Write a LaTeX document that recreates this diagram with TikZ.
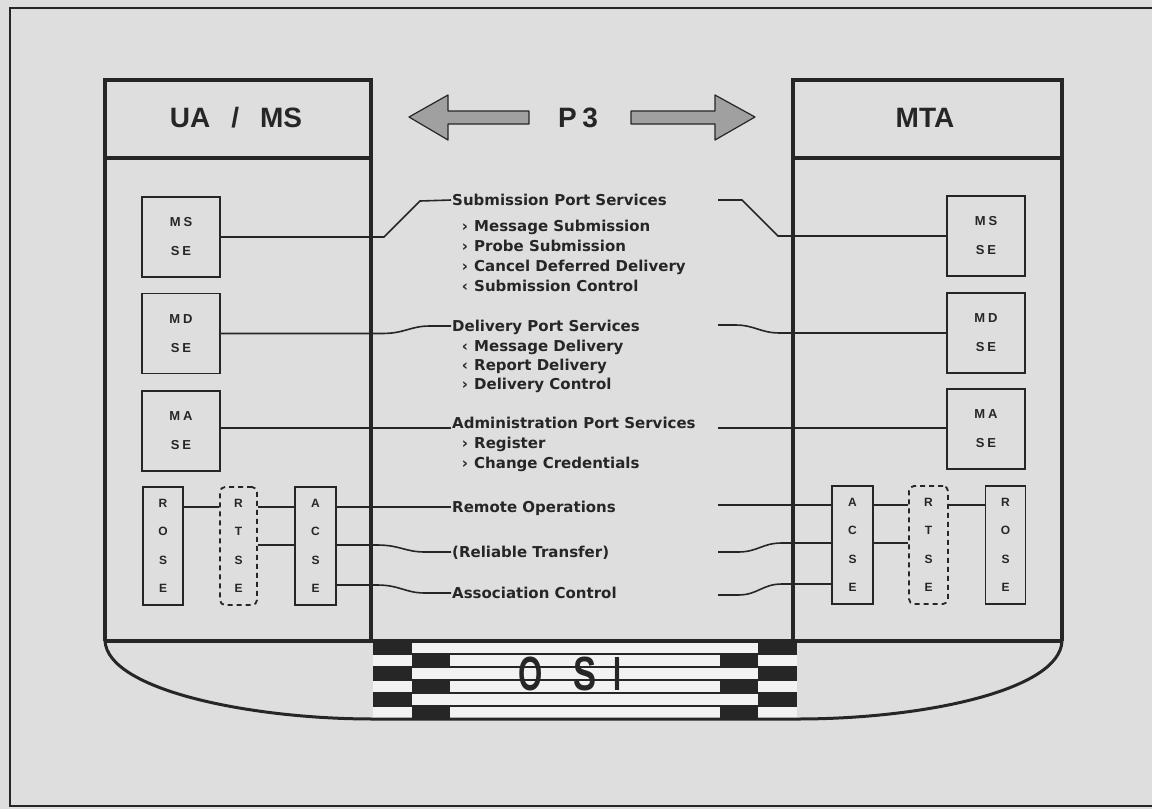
\documentclass[tikz,border=0pt]{standalone}
\usepackage{fontspec}
\setmainfont{Liberation Sans}
\newfontfamily\dvsans{DejaVu Sans}
\usepackage{graphicx}
\definecolor{bg}{RGB}{222,222,222}
\definecolor{ink}{RGB}{38,38,38}
\definecolor{arrfill}{RGB}{160,160,160}
\definecolor{barfill}{RGB}{242,242,242}
\tikzset{
 boxline/.style={draw=ink, line width=3.5pt},
 conn/.style={draw=ink, line width=1.6pt},
 hdr/.style={font=\fontsize{28}{30}\selectfont\bfseries, text=ink, inner sep=0pt, text height=20pt, text depth=0pt},
 sebox/.style={draw=ink, line width=1.8pt, fill=bg, minimum width=78pt, minimum height=80pt, inner sep=0pt, align=center, font=\fontsize{13}{29}\selectfont\bfseries, text=ink},
 colbox/.style={draw=ink, line width=1.8pt, minimum width=40pt, minimum height=118pt, inner sep=0pt, align=center, font=\fontsize{12}{28.5}\selectfont\bfseries, text=ink},
 dashbox/.style={colbox, dash pattern=on 5pt off 4pt, rounded corners=5pt},
 svc/.style={font=\dvsans\bfseries\fontsize{15}{19}\selectfont, text=ink, inner sep=1pt, text height=11pt, text depth=0pt, anchor=west},
 svcmark/.style={font=\dvsans\bfseries\fontsize{15}{19}\selectfont, text=ink, inner sep=0pt, text height=11pt, text depth=0pt},
 osil/.style={font=\fontsize{48}{50}\selectfont\bfseries, text=ink, inner sep=0pt},
 bigarrow/.style={fill=arrfill, draw=ink, line width=1.2pt, line join=round}
}
\newcommand{\svcitem}[4]{\node[svcmark] (#1m) at (465,#2) {#3}; \node[svc] (#1) at (473,#2) {#4};}
\begin{document}
\begin{tikzpicture}[x=1pt,y=-1pt]
\fill[bg] (0,0) rectangle (1152,809);
\useasboundingbox (0,0) rectangle (1152,809);
\draw[ink, line width=2.5pt] (1153,8) -- (10,8) -- (10,806) -- (1153,806);

% OSI band
\fill[barfill] (373,641) rectangle (797,719);
\fill[ink] (373,641) rectangle (412,654);
\fill[ink] (758,641) rectangle (797,654);
\fill[ink] (412,654) rectangle (450,667);
\fill[ink] (720,654) rectangle (758,667);
\fill[ink] (373,667) rectangle (412,680);
\fill[ink] (758,667) rectangle (797,680);
\fill[ink] (412,680) rectangle (450,693);
\fill[ink] (720,680) rectangle (758,693);
\fill[ink] (373,693) rectangle (412,706);
\fill[ink] (758,693) rectangle (797,706);
\fill[ink] (412,706) rectangle (450,719);
\fill[ink] (720,706) rectangle (758,719);
\foreach \yy in {654,667,680,693,706} \draw[ink, line width=1.5pt] (373,\yy) -- (797,\yy);
\node[osil] (osiO) at (531,674) {\scalebox{0.65}[1]{O}};
\node[osil] (osiS) at (585,674) {\scalebox{0.72}[1]{S}};
\node[osil] (osiI) at (617,674) {\scalebox{0.6}[1]{I}};

% boxes and base
\draw[boxline] (105,641) -- (105,80) -- (371,80) -- (371,641);
\draw[boxline] (793,641) -- (793,80) -- (1062,80) -- (1062,641);
\draw[boxline] (105,158) -- (371,158);
\draw[boxline] (793,158) -- (1062,158);
\draw[ink, line width=3pt] (105,641) .. controls (108,690) and (250,719) .. (373,719) -- (797,719) .. controls (925,719) and (1060,690) .. (1062,641);
\draw[boxline] (105,641) -- (1062,641);

% header
\filldraw[bigarrow] (409,117) -- (448,95) -- (448,111) -- (529,111) -- (529,124) -- (448,124) -- (448,140) -- cycle;
\filldraw[bigarrow] (755,117) -- (715,95) -- (715,111) -- (631,111) -- (631,124) -- (715,124) -- (715,140) -- cycle;
\node[hdr] (p3) at (578,117) {P\hspace{0.2em}3};
\node[hdr] (uams) at (236,117) {UA\hspace{0.75em}/\hspace{0.75em}MS};
\node[hdr] (mta) at (925,117) {MTA};

% service elements
\node[sebox] (msL) at (181,237) {M\hspace{3pt}S\\S\hspace{3pt}E};
\node[sebox] (mdL) at (181,333.5) {M\hspace{3pt}D\\S\hspace{3pt}E};
\node[sebox] (maL) at (181,431) {M\hspace{3pt}A\\S\hspace{3pt}E};
\node[sebox] (msR) at (986,236) {M\hspace{3pt}S\\S\hspace{3pt}E};
\node[sebox] (mdR) at (986,333) {M\hspace{3pt}D\\S\hspace{3pt}E};
\node[sebox] (maR) at (986,429) {M\hspace{3pt}A\\S\hspace{3pt}E};

% service texts
\node[svc] (subT) at (451,200) {Submission Port Services};
\svcitem{i1}{226}{›}{Message Submission}
\svcitem{i2}{246}{›}{Probe Submission}
\svcitem{i3}{266}{›}{Cancel Deferred Delivery}
\svcitem{i4}{286}{‹}{Submission Control}
\node[svc] (delT) at (451,326) {Delivery Port Services};
\svcitem{i5}{346}{‹}{Message Delivery}
\svcitem{i6}{365}{‹}{Report Delivery}
\svcitem{i7}{384}{›}{Delivery Control}
\node[svc] (admT) at (451,423) {Administration Port Services};
\svcitem{i8}{443}{›}{Register}
\svcitem{i9}{463}{›}{Change Credentials}
\node[svc] (remT) at (451,507) {Remote Operations};
\node[svc] (relT) at (451,552) {(Reliable Transfer)};
\node[svc] (assT) at (451,593) {Association Control};

\coordinate (subR) at (718,200);
\coordinate (delR) at (718,325);
\coordinate (admR) at (718,428);
\coordinate (remR) at (718,505);
\coordinate (relR) at (718,552);
\coordinate (assR) at (718,595);

% SE connectors
\draw[conn] (msL.east) -- (384,237) -- (420,201) -- (subT.west);
\draw[conn] (subR) -- (742,200) -- (778,236) -- (msR.west);
\draw[conn] (mdL.east) -- (382,333.5) .. controls (405,333.5) and (410,326) .. (430,326) -- (delT.west);
\draw[conn] (delR) -- (735,325) .. controls (755,325) and (760,333) .. (780,333) -- (mdR.west);
\draw[conn] (maL.east |- admR) -- (admT.west |- admR);
\draw[conn] (admR) -- (maR.west |- admR);

% bottom columns
\node[colbox] (roseL) at (163,546) {R\\O\\S\\E};
\node[dashbox, minimum width=37pt] (rtseL) at (238.5,546) {R\\T\\S\\E};
\node[colbox, minimum width=41pt] (acseL) at (315.5,546) {A\\C\\S\\E};
\node[colbox, minimum width=41pt] (acseR) at (852.5,545) {A\\C\\S\\E};
\node[dashbox, minimum width=39pt] (rtseR) at (928.5,545) {R\\T\\S\\E};
\node[colbox] (roseR) at (1005.5,545) {R\\O\\S\\E};

\draw[conn] (roseL.east |- remT) -- (rtseL.west |- remT);
\draw[conn] (rtseL.east |- remT) -- (acseL.west |- remT);
\draw[conn] (rtseL.east |- 0,545) -- (acseL.west |- 0,545);
\draw[conn] (acseL.east |- remT) -- (remT.west);
\draw[conn] (acseL.east |- 0,545) -- (377,545) .. controls (400,545) and (405,552) .. (425,552) -- (relT.west);
\draw[conn] (acseL.east |- 0,585) -- (377,585) .. controls (400,585) and (405,593) .. (425,593) -- (assT.west);

\draw[conn] (remR) -- (acseR.west |- remR);
\draw[conn] (relR) -- (738,552) .. controls (758,552) and (762,543) .. (782,543) -- (acseR.west |- 0,543);
\draw[conn] (assR) -- (738,595) .. controls (758,595) and (762,584) .. (782,584) -- (acseR.west |- 0,584);
\draw[conn] (acseR.east |- remR) -- (rtseR.west |- remR);
\draw[conn] (acseR.east |- 0,543) -- (rtseR.west |- 0,543);
\draw[conn] (rtseR.east |- remR) -- (roseR.west |- remR);
\end{tikzpicture}
\end{document}
